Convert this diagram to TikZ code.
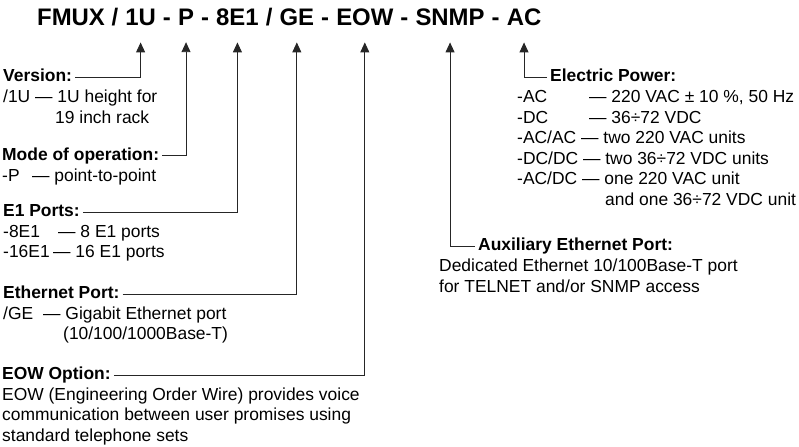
\documentclass[tikz,border=0pt]{standalone}
\usepackage{fontspec}
\setmainfont{Liberation Sans}
\usetikzlibrary{arrows.meta,positioning}
\newcommand{\titlefont}{\fontsize{24}{28}\selectfont\bfseries}
\newcommand{\bodyfont}{\fontsize{17.5}{20.5}\selectfont}
\newcommand{\opt}[3]{\makebox[#1][l]{#2}—~#3}
\newcommand{\lines}[1]{\begin{tabular}[t]{@{}l@{}}#1\end{tabular}}

\begin{document}
\begin{tikzpicture}[
  x=1bp, y=1bp,
  seg/.style={inner sep=0pt, font=\titlefont},
  head/.style={inner sep=0pt, font=\bodyfont\bfseries,
               text height=10bp, text depth=0pt, anchor=base west},
  desc/.style={inner sep=0pt, font=\bodyfont, anchor=base west},
  arr/.style={-{Triangle[length=10bp, width=9bp]}, line width=0.9bp, black!85,
              shorten <=3bp, shorten >=16bp},
  node distance=6.7bp
]
  \useasboundingbox (0,0) rectangle (799,-447);

  % order code
  \node[seg, anchor=base west] (fmux) at (37,-26) {FMUX /};
  \node[seg, base right=of fmux] (u)    {1U};
  \node[seg, base right=of u]    (d1)   {-};
  \node[seg, base right=of d1]   (p)    {P};
  \node[seg, base right=of p]    (d2)   {-};
  \node[seg, base right=of d2]   (e)    {8E1};
  \node[seg, base right=of e]    (sl)   {/};
  \node[seg, base right=of sl]   (ge)   {GE};
  \node[seg, base right=of ge]   (d3)   {-};
  \node[seg, base right=of d3]   (eow)  {EOW};
  \node[seg, base right=of eow]  (d4)   {-};
  \node[seg, base right=of d4]   (snmp) {SNMP};
  \node[seg, base right=of snmp] (d5)   {-};
  \node[seg, base right=of d5]   (ac)   {AC};

  % left column
  \node[head] (ver) at (3,-82) {Version:};
  \node[below=21bp of ver.base west, desc] (verd)
    {\lines{\opt{32bp}{/1U}{1U height for}\\\hspace*{52bp}19 inch rack}};
  \node[head] (mode) at (2,-160.5) {Mode of operation:};
  \node[below=21bp of mode.base west, desc] (moded)
    {\opt{30bp}{-P}{point-to-point}};
  \node[head] (eports) at (3,-217) {E1 Ports:};
  \node[below=20.5bp of eports.base west, desc] (eportsd)
    {\lines{\opt{55bp}{-8E1}{8 E1 ports}\\\opt{50bp}{-16E1}{16 E1 ports}}};
  \node[head] (eth) at (3,-299) {Ethernet Port:};
  \node[below=20.5bp of eth.base west, desc] (ethd)
    {\lines{\opt{40bp}{/GE}{Gigabit Ethernet port}\\\hspace*{60bp}(10/100/1000Base-T)}};
  \node[head] (eowopt) at (2,-380) {EOW Option:};
  \node[below=20.5bp of eowopt.base west, desc] (eowoptd)
    {\lines{EOW (Engineering Order Wire) provides voice\\
     communication between user promises using\\
     standard telephone sets}};

  % right column
  \node[head] (pwr) at (550,-82) {Electric Power:};
  \node[below left=21bp and 33bp of pwr.base west, desc] (pwrd)
    {\lines{\opt{72bp}{-AC}{220 VAC ± 10 \%, 50 Hz}\\
     \opt{72bp}{-DC}{36÷72 VDC}\\
     -AC/AC — two 220 VAC units\\
     -DC/DC — two 36÷72 VDC units\\
     -AC/DC — one 220 VAC unit\\
     \hspace*{88bp}and one 36÷72 VDC unit}};
  \node[head] (aux) at (478,-251) {Auxiliary Ethernet Port:};
  \node[below left=21bp and 39bp of aux.base west, desc] (auxd)
    {\lines{Dedicated Ethernet 10/100Base-T port\\for TELNET and/or SNMP access}};

  \draw[arr] (ver.east)    -| (u.south);
  \draw[arr] (mode.east)   -| (p.south);
  \draw[arr] (eports.east) -| (e.south);
  \draw[arr] (eth.east)    -| (ge.south);
  \draw[arr] (eowopt.east) -| (eow.south);
  \draw[arr] (aux.west)    -| (snmp.south);
  \draw[arr] (pwr.west)    -| (ac.south);
\end{tikzpicture}
\end{document}
